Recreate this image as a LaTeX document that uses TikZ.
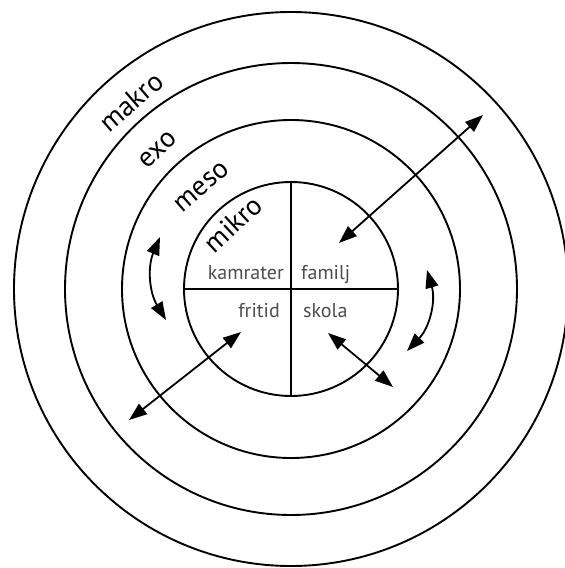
\documentclass[tikz,border=0pt]{standalone}
\usepackage{fontspec}
\setmainfont{PT Sans}
\usetikzlibrary{arrows.meta}
\begin{document}
\begin{tikzpicture}[x=1pt,y=-1pt,
  ring/.style={circle, draw, line width=1.9pt, inner sep=0pt, minimum size=#1},
  zone/.style={font=\fontsize{28}{28}\selectfont, inner sep=0pt},
  part/.style={font=\fontsize{20}{20}\selectfont, text=black!70, inner sep=0pt},
  dbl/.style={line width=1.8pt, {Triangle[length=18pt,width=13pt]}-{Triangle[length=18pt,width=13pt]}},
  divider/.style={line width=1.9pt}]
\useasboundingbox (0,0) rectangle (565,568);
\coordinate (c) at (291,289);
\node[ring=214pt] (r1) at (c) {};
\node[ring=338pt] (r2) at (c) {};
\node[ring=452pt] (r3) at (c) {};
\node[ring=554pt] (r4) at (c) {};
\draw[divider] (r1.north) -- (r1.south);
\draw[divider] (r1.west) -- (r1.east);
% zone labels
\node[zone, rotate=41] (lmakro) at (131,102) {makro};
\node[zone, rotate=44] (lexo) at (158,150) {exo};
\node[zone, rotate=41] (lmeso) at (202,187) {meso};
\node[zone, rotate=43] (lmikro) at (233,224) {mikro};
% parts
\node[part, anchor=base east] (kam) at (284,279) {kamrater};
\node[part, anchor=base west] (fam) at (301,279) {familj};
\node[part, anchor=base east] (fri) at (280,317) {fritid};
\node[part, anchor=base west] (sko) at (303,317) {skola};
% arrows
\coordinate (a1) at (339,243);
\coordinate (a2) at (483,115);
\coordinate (b1) at (241,332);
\coordinate (b2) at (129,420);
\coordinate (d1) at (328,333);
\coordinate (d2) at (393,387);
\coordinate (e1) at (160,237);
\coordinate (e2) at (166,320);
\coordinate (f1) at (427,270);
\coordinate (f2) at (407,351);
\draw[dbl] (a1) -- (a2);
\draw[dbl] (b1) -- (b2);
\draw[dbl] (d1) -- (d2);
\draw[dbl] (e1) to[bend right=27] (e2);
\draw[dbl] (f1) to[bend left=30] (f2);
\end{tikzpicture}
\end{document}
